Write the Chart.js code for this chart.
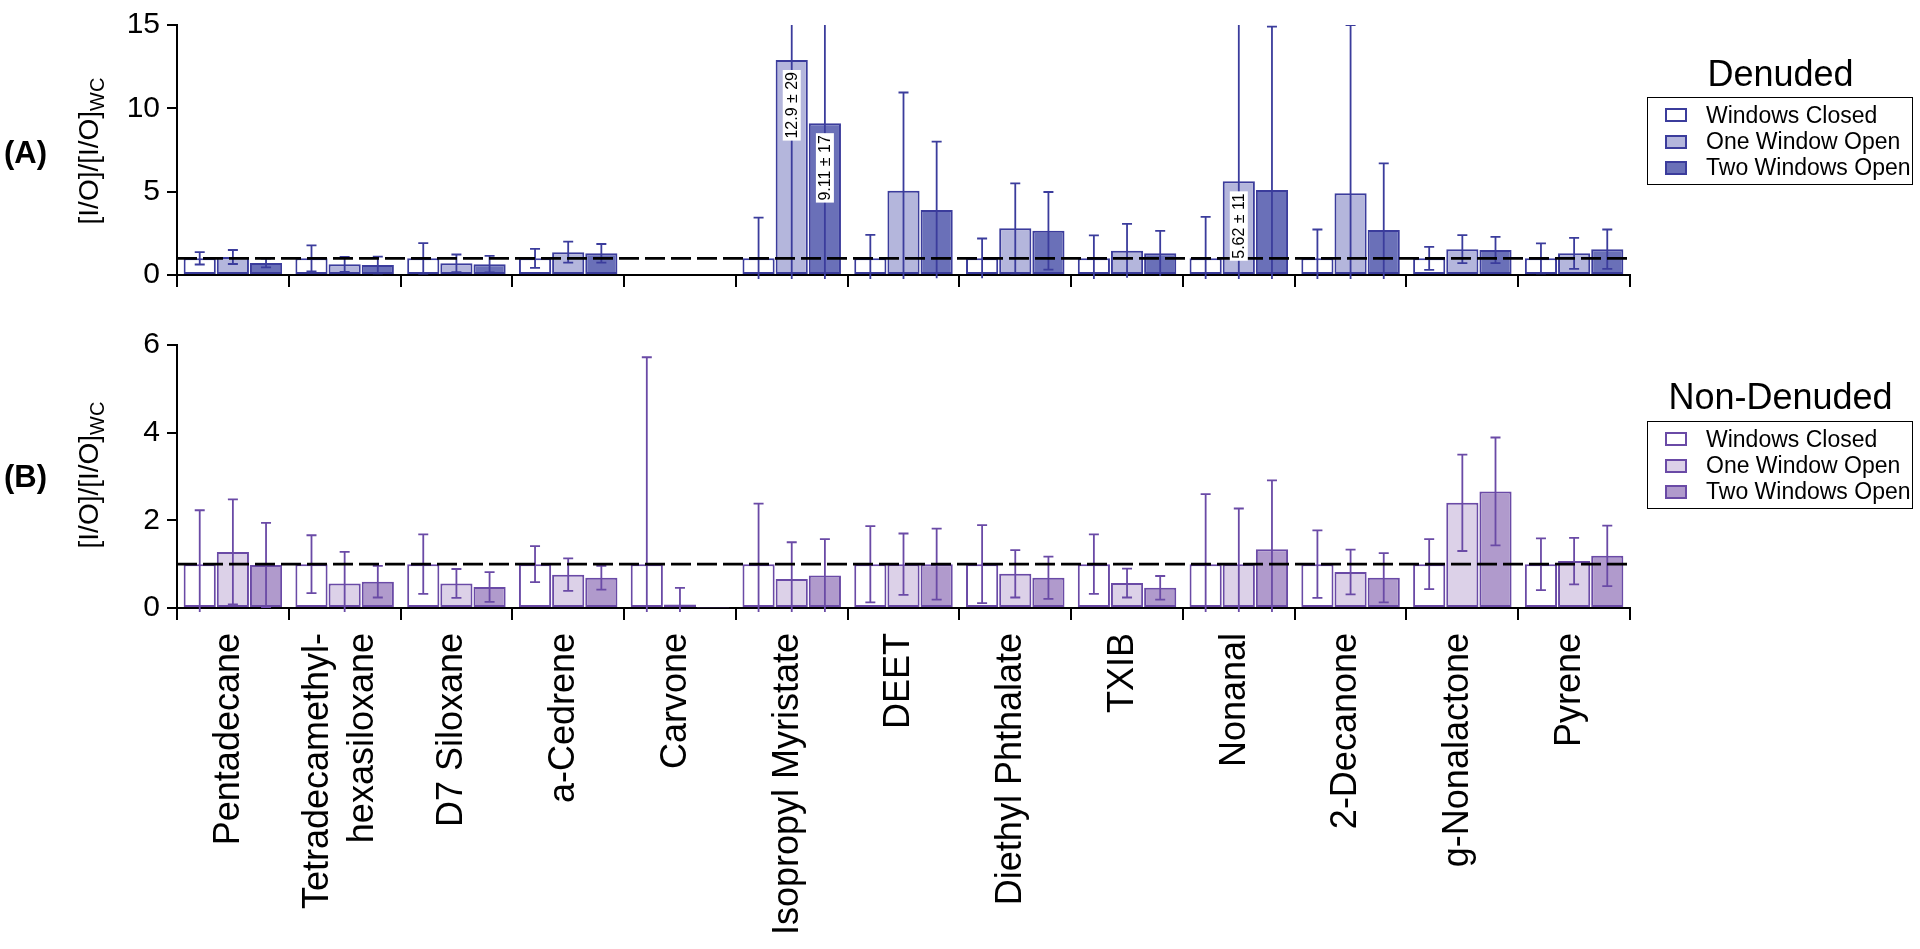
<!DOCTYPE html>
<html>
<head>
<meta charset="utf-8">
<script src="https://cdn.jsdelivr.net/npm/chart.js@4.4.1/dist/chart.umd.min.js"></script>
<style>
  html, body { margin: 0; padding: 0; background: #fff; }
  body { width: 1920px; height: 949px; position: relative; overflow: hidden;
         font-family: 'Liberation Sans', Arial, Helvetica, sans-serif; color: #000; }
  canvas { position: absolute; left: 0; }
  #chartA { top: 0; }
  #chartB { top: 320px; }
  .panel-tag { position: absolute; left: 4px; font-weight: bold; font-size: 31px; line-height: 31px; }
  .ytitle { position: absolute; left: 93px; font-size: 28px; line-height: 30px; white-space: nowrap;
            transform: translate(-50%, -50%) rotate(-90deg); }
  .ytitle sub { font-size: 20px; vertical-align: -6px; }
  .legend-title { position: absolute; left: 1647px; width: 267px; text-align: center;
                  font-size: 36px; line-height: 36px; }
  .legend-box { position: absolute; left: 1647px; width: 264px; border: 1.5px solid #000;
                padding: 4px 0 3px 0; }
  .legend-row { display: flex; align-items: center; height: 26.4px; padding-left: 17px;
                font-size: 23px; }
  .swatch { width: 18px; height: 10px; border: 2px solid; margin-right: 19px; }
</style>
</head>
<body>
<canvas id="chartA" width="1920" height="300"></canvas>
<canvas id="chartB" width="1920" height="629"></canvas>

<div class="panel-tag" style="top:137px">(A)</div>
<div class="panel-tag" style="top:461px">(B)</div>
<div class="ytitle" style="top:151px">[I/O]/[I/O]<sub>WC</sub></div>
<div class="ytitle" style="top:475px">[I/O]/[I/O]<sub>WC</sub></div>

<div class="legend-title" style="top:56px">Denuded</div>
<div class="legend-box" id="legendA" style="top:97px"></div>
<div class="legend-title" style="top:379px">Non-Denuded</div>
<div class="legend-box" id="legendB" style="top:421px"></div>

<script>
const FONT = "'Liberation Sans', Arial, Helvetica, sans-serif";

const categories = ['Pentadecane', ['Tetradecamethyl-', 'hexasiloxane'], 'D7 Siloxane', 'a-Cedrene',
  'Carvone', 'Isopropyl Myristate', 'DEET', 'Diethyl Phthalate', 'TXIB', 'Nonanal',
  '2-Decanone', 'g-Nonalactone', 'Pyrene'];
const seriesNames = ['Windows Closed', 'One Window Open', 'Two Windows Open'];

// (A) Denuded
const closedA    = [1, 1, 1, 1, null, 1, 1, 1, 1, 1, 1, 1, 1];
const closedAErr = [0.37, 0.78, 0.91, 0.57, null, 2.44, 1.41, 1.19, 1.38, 2.49, 1.73, 0.69, 0.9];
const oneA       = [1.08, 0.64, 0.7, 1.37, null, 12.9, 5.05, 2.8, 1.45, 5.62, 4.9, 1.55, 1.3];
const oneAErr    = [0.42, 0.45, 0.53, 0.63, null, 29, 5.9, 2.7, 1.62, 11, 10.1, 0.84, 0.93];
const twoA       = [0.72, 0.6, 0.65, 1.3, null, 9.11, 3.9, 2.65, 1.3, 5.1, 2.7, 1.5, 1.55];
const twoAErr    = [0.26, 0.5, 0.5, 0.56, null, 17, 4.1, 2.33, 1.35, 9.8, 4.0, 0.79, 1.18];
const notesA = [
  { series: 1, index: 5, text: '12.9 ± 29' },
  { series: 2, index: 5, text: '9.11 ± 17' },
  { series: 1, index: 9, text: '5.62 ± 11' }
];

// (B) Non-Denuded
const closedB    = [1, 1, 1, 1, 1, 1, 1, 1, 1, 1, 1, 1, 1];
const closedBErr = [1.23, 0.66, 0.68, 0.41, 4.72, 1.38, 0.87, 0.89, 0.68, 1.6, 0.77, 0.57, 0.59];
const oneB       = [1.28, 0.56, 0.56, 0.76, 0.08, 0.66, 1.0, 0.78, 0.57, 1.0, 0.82, 2.4, 1.07];
const oneBErr    = [1.2, 0.72, 0.33, 0.37, 0.38, 0.84, 0.7, 0.54, 0.33, 1.27, 0.51, 1.1, 0.53];
const twoB       = [0.98, 0.6, 0.48, 0.69, 0.01, 0.74, 1.0, 0.69, 0.46, 1.34, 0.69, 2.66, 1.19];
const twoBErr    = [0.96, 0.36, 0.34, 0.27, 0, 0.83, 0.81, 0.48, 0.27, 1.57, 0.56, 1.23, 0.69];

const refValue = 1;

/* error bars, clipped to the plot like Prism does */
const errorBars = {
  id: 'errorBars',
  afterDatasetsDraw(chart, args, opts) {
    const { ctx, chartArea: a, scales: { y } } = chart;
    ctx.save();
    ctx.beginPath();
    ctx.rect(a.left, a.top, a.right - a.left, a.bottom - a.top + 4);
    ctx.clip();
    ctx.strokeStyle = opts.color;
    ctx.lineWidth = 1.8;
    chart.data.datasets.forEach((ds, di) => {
      chart.getDatasetMeta(di).data.forEach((bar, i) => {
        const v = ds.data[i], e = ds.errors[i];
        if (v == null || !e) return;
        const top = y.getPixelForValue(v + e);
        const bot = y.getPixelForValue(v - e);
        ctx.beginPath();
        ctx.moveTo(bar.x, top);
        ctx.lineTo(bar.x, bot);
        if (top >= a.top) { ctx.moveTo(bar.x - 5, top); ctx.lineTo(bar.x + 5, top); }
        if (bot <= a.bottom) { ctx.moveTo(bar.x - 5, bot); ctx.lineTo(bar.x + 5, bot); }
        ctx.stroke();
      });
    });
    ctx.restore();
  }
};

/* dashed reference line at 1 */
const refLine = {
  id: 'refLine',
  afterDatasetsDraw(chart, args, opts) {
    const { ctx, chartArea: a, scales: { y } } = chart;
    const py = y.getPixelForValue(opts.value);
    ctx.save();
    ctx.strokeStyle = '#000';
    ctx.lineWidth = 2.6;
    ctx.setLineDash([20, 6]);
    ctx.beginPath();
    ctx.moveTo(a.left, py);
    ctx.lineTo(a.right + 2, py);
    ctx.stroke();
    ctx.restore();
  }
};

/* white value boxes on the clipped bars */
const barNotes = {
  id: 'barNotes',
  afterDraw(chart, args, opts) {
    const ctx = chart.ctx;
    (opts.notes || []).forEach(n => {
      const bar = chart.getDatasetMeta(n.series).data[n.index];
      ctx.save();
      ctx.font = '16px ' + FONT;
      const w = ctx.measureText(n.text).width;
      ctx.translate(bar.x, bar.y + 12 + w / 2);
      ctx.rotate(-Math.PI / 2);
      ctx.fillStyle = '#fff';
      ctx.fillRect(-w / 2 - 2, -9, w + 4, 18);
      ctx.fillStyle = '#000';
      ctx.textAlign = 'center';
      ctx.textBaseline = 'middle';
      ctx.fillText(n.text, 0, 1);
      ctx.restore();
    });
  }
};

/* vertical category names, multi-line names centred on their slot */
const xLabels = {
  id: 'xLabels',
  afterDraw(chart, args, opts) {
    if (!opts.show) return;
    const { ctx, scales: { x } } = chart;
    ctx.save();
    ctx.font = '36px ' + FONT;
    ctx.fillStyle = '#000';
    ctx.textAlign = 'right';
    ctx.textBaseline = 'middle';
    chart.data.labels.forEach((lab, i) => {
      const lines = [].concat(lab);
      const cx = x.getPixelForValue(i) - 4;
      lines.forEach((t, j) => {
        ctx.save();
        ctx.translate(cx + (j - (lines.length - 1) / 2) * 45, x.top + 25);
        ctx.rotate(-Math.PI / 2);
        ctx.fillText(t, 0, 0);
        ctx.restore();
      });
    });
    ctx.restore();
  }
};

function makePanel(id, cfg) {
  return new Chart(document.getElementById(id), {
    type: 'bar',
    data: {
      labels: categories,
      datasets: seriesNames.map((name, k) => ({
        label: name,
        data: cfg.values[k],
        errors: cfg.errors[k],
        backgroundColor: cfg.fills[k],
        borderColor: cfg.line,
        borderWidth: 2,
        borderSkipped: false,
        categoryPercentage: 0.89,
        barPercentage: 0.97
      }))
    },
    options: {
      responsive: false,
      animation: false,
      layout: { padding: { top: cfg.padTop, left: 0, right: 290, bottom: 0 } },
      plugins: {
        legend: { display: false },
        tooltip: { enabled: false },
        errorBars: { color: cfg.line },
        refLine: { value: refValue },
        barNotes: { notes: cfg.notes },
        xLabels: { show: cfg.showLabels }
      },
      scales: {
        x: {
          grid: { drawOnChartArea: false, tickLength: 12, color: '#000', lineWidth: 2, offset: true },
          border: { color: '#000', width: 2 },
          ticks: { display: false, autoSkip: false },
          afterFit: s => { s.height = cfg.xHeight; }
        },
        y: {
          min: 0,
          max: cfg.yMax,
          ticks: { stepSize: cfg.yStep, color: '#000', padding: 7, font: { family: FONT, size: 30 } },
          grid: { drawOnChartArea: false, tickLength: 10, color: '#000', lineWidth: 2 },
          border: { color: '#000', width: 2 },
          afterFit: s => { s.width = 177; }
        }
      }
    },
    plugins: [errorBars, refLine, barNotes, xLabels]
  });
}

const blue = { line: '#3b3c9c', fills: ['#ffffff', '#b4b6dc', '#6a70b8'] };
const purple = { line: '#6a4aa6', fills: ['#ffffff', '#dcd1e8', '#b09acc'] };

makePanel('chartA', {
  values: [closedA, oneA, twoA], errors: [closedAErr, oneAErr, twoAErr],
  line: blue.line, fills: blue.fills, notes: notesA,
  padTop: 17, xHeight: 15, yMax: 15, yStep: 5, showLabels: false
});
makePanel('chartB', {
  values: [closedB, oneB, twoB], errors: [closedBErr, oneBErr, twoBErr],
  line: purple.line, fills: purple.fills, notes: [],
  padTop: 22, xHeight: 341, yMax: 6, yStep: 2, showLabels: true
});

function fillLegend(id, pal) {
  const box = document.getElementById(id);
  seriesNames.forEach((name, k) => {
    const row = document.createElement('div');
    row.className = 'legend-row';
    const sw = document.createElement('span');
    sw.className = 'swatch';
    sw.style.borderColor = pal.line;
    sw.style.background = pal.fills[k];
    const txt = document.createElement('span');
    txt.textContent = name;
    row.appendChild(sw);
    row.appendChild(txt);
    box.appendChild(row);
  });
}
fillLegend('legendA', blue);
fillLegend('legendB', purple);
</script>
</body>
</html>
